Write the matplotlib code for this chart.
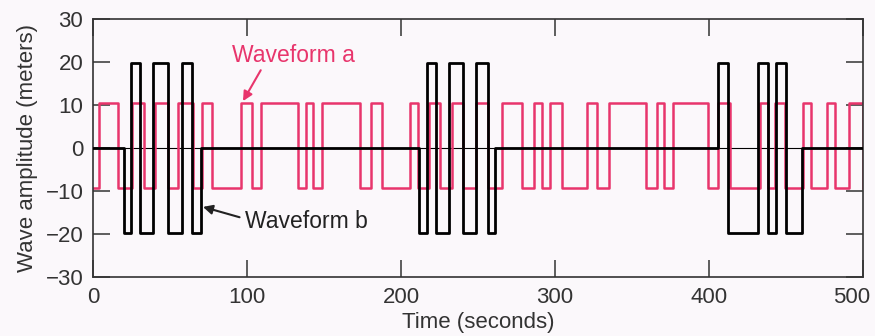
import matplotlib.pyplot as plt
from matplotlib.transforms import ScaledTranslation
import numpy as np

plt.rcParams['font.family'] = ['Liberation Sans', 'DejaVu Sans']

# waveform a: switch times (s) and levels (m)
a_hi, a_lo = 10.4, -9.4
a_times = [0, 4, 16.4, 25, 33, 40, 49, 55.4, 65, 71, 77, 96, 103, 109, 133, 138.5,
           143, 149, 173.5, 180.5, 187.7, 205.8, 211.3, 218.4, 225.3, 232.9, 240,
           248.7, 256.7, 265.4, 278.4, 286.4, 291.4, 296.8, 304.4, 321, 327.5, 335.3,
           359, 366, 370.8, 376.4, 399.6, 406, 413.6, 433.1, 438.5, 442.9, 449.4,
           461.3, 466.2, 476.4, 481.8, 491, 500]
a_levels = [a_lo if i % 2 == 0 else a_hi for i in range(len(a_times))]

# waveform b: switch times (s) and levels (m)
b_times = [0, 20.3, 24.5, 30.5, 39.2, 48.9, 57.6, 64.5, 70,
           212, 216.7, 223, 231.4, 240, 249, 256.7, 261,
           406, 412.6, 432, 438.5, 443.5, 450, 460.2, 500]
b_levels = [0, -19.7, 19.7, -19.7, 19.7, -19.7, 19.7, -19.7, 0,
            -19.7, 19.7, -19.7, 19.7, -19.7, 19.7, -19.7, 0,
            19.7, -19.7, 19.7, -19.7, 19.7, -19.7, 0, 0]

pink = '#e8356c'
bg = '#fbf8fb'
grey = '#333333'

fig = plt.figure(figsize=(8.75, 3.36), dpi=100, facecolor=bg)
ax = fig.add_axes([0.1063, 0.1756, 0.88, 0.768])
ax.set_facecolor(bg)

ax.axhline(0, color='black', lw=0.8, zorder=1)
ax.step(a_times, a_levels, where='post', color=pink, lw=1.8, zorder=2)
ax.step(b_times, b_levels, where='post', color='black', lw=2.0, zorder=3)

ax.set_xlim(0, 500)
ax.set_ylim(-30, 30)
ax.set_xticks(np.arange(0, 501, 100))
ax.set_yticks(np.arange(-30, 31, 10))
ax.set_yticklabels(['\u221230', '\u221220', '\u221210', '0', '10', '20', '30'])
ax.tick_params(direction='in', length=12, width=1.1, color=grey, labelcolor=grey,
               labelsize=16, top=True, right=True, pad=7)
for s in ax.spines.values():
    s.set_color(grey)
    s.set_linewidth(1.2)

# last x label sits a little left of its tick, as in the original
lab = ax.get_xticklabels()[-1]
lab.set_transform(lab.get_transform() + ScaledTranslation(-0.11, 0, fig.dpi_scale_trans))

ax.set_xlabel('Time (seconds)', fontsize=16, color=grey, labelpad=3)
ax.set_ylabel('Wave amplitude (meters)', fontsize=16, color=grey, labelpad=5)

ax.annotate('Waveform a', xy=(97.4, 10.9), xytext=(90, 21.4), color=pink,
            fontsize=16.5, va='center', ha='left',
            arrowprops=dict(arrowstyle='-|>', color=pink, lw=1.5,
                            shrinkA=0, shrinkB=0, mutation_scale=14,
                            relpos=(0.25, 0)))
ax.annotate('Waveform b', xy=(71.4, -13.7), xytext=(98.7, -17), color='#222222',
            fontsize=16.5, va='center', ha='left',
            arrowprops=dict(arrowstyle='-|>', color='#222222', lw=1.5,
                            shrinkA=2, shrinkB=0, mutation_scale=14,
                            relpos=(0, 0.6)))

fig.savefig('out.png', dpi=100, facecolor=bg)
